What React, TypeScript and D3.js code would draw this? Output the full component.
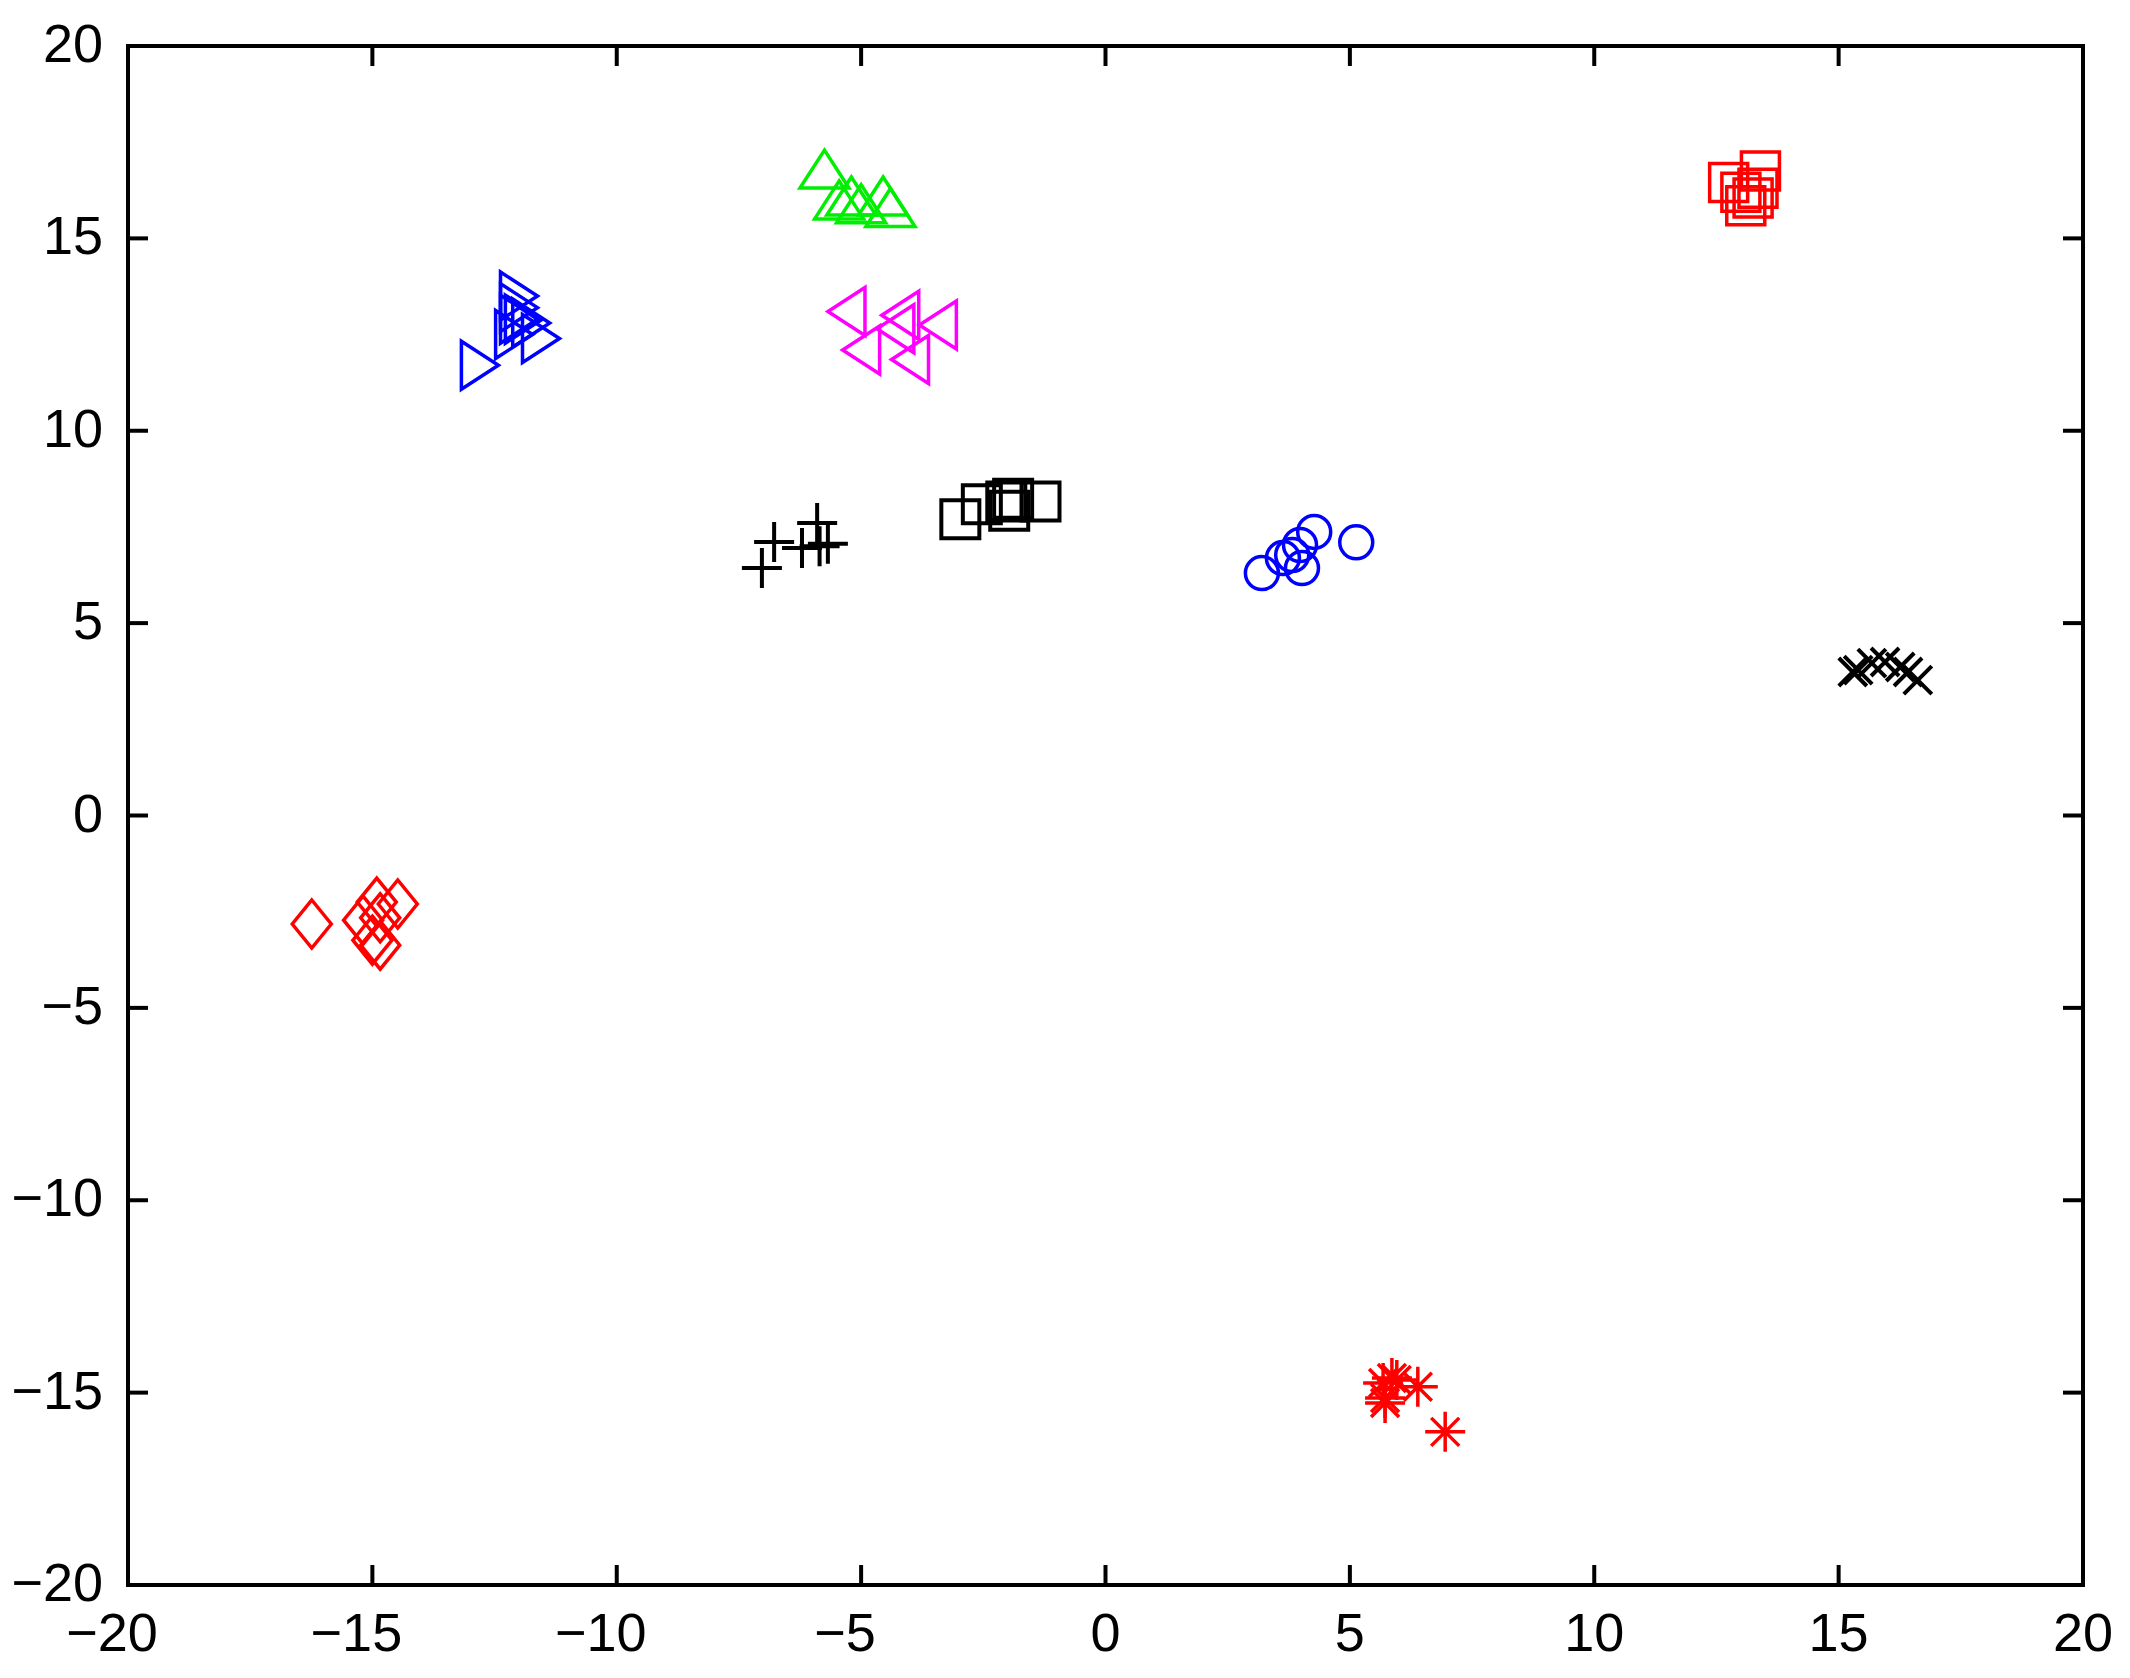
import React from "react";
import * as d3 from "d3";

const W = 2130;
const H = 1678;
const M = { left: 128, right: 2083, top: 46, bottom: 1585 };

const xTicks = [-20, -15, -10, -5, 0, 5, 10, 15, 20];
const yTicks = [-20, -15, -10, -5, 0, 5, 10, 15, 20];

// green up-triangles
const greenTriX = [-5.75, -5.45, -5.2, -4.55, -4.4, -5.0];
const greenTriY = [16.8, 16.0, 16.1, 16.1, 15.8, 15.9];
// blue right-triangles
const blueTriX = [-12.8, -12.0, -12.0, -11.9, -12.1, -11.75, -11.55, -12.0];
const blueTriY = [11.7, 13.5, 13.2, 12.9, 12.5, 12.8, 12.4, 12.9];
// magenta left-triangles
const magTriX = [-5.3, -5.0, -4.2, -3.43, -4.0, -4.3];
const magTriY = [13.1, 12.1, 13.0, 12.75, 11.85, 12.65];
// red squares
const redSqX = [12.75, 13.4, 13.35, 13.1, 13.25, 13.0];
const redSqY = [16.45, 16.75, 16.3, 15.85, 16.05, 16.2];
// black plus
const blackPlusX = [-7.03, -6.78, -6.21, -5.9, -5.68, -5.85];
const blackPlusY = [6.43, 7.11, 6.95, 7.6, 7.06, 7.0];
// black squares
const blackSqX = [-2.97, -2.53, -2.03, -1.89, -1.97, -1.33];
const blackSqY = [7.7, 8.09, 8.16, 8.23, 7.92, 8.16];
// blue circles
const blueCircX = [3.2, 5.13, 4.27, 3.63, 4.02, 3.82, 3.98];
const blueCircY = [6.3, 7.1, 7.37, 6.69, 6.43, 6.77, 7.03];
// black x-marks
const blackXX = [15.29, 15.4, 15.68, 15.95, 16.26, 16.42, 16.62];
const blackXY = [3.73, 3.78, 3.96, 3.99, 3.86, 3.73, 3.52];
// red diamonds
const redDiaX = [-16.24, -15.19, -14.91, -14.48, -15.0, -14.84, -14.84];
const redDiaY = [-2.82, -2.72, -2.25, -2.3, -3.24, -3.37, -2.66];
// red asterisks
const redAstX = [6.95, 6.39, 5.86, 5.72, 5.72, 5.96, 5.68];
const redAstY = [-16.02, -14.85, -14.62, -15.14, -15.27, -14.67, -14.75];

type Shape = "triUp" | "triRight" | "triLeft" | "square" | "circle" | "plus" | "x" | "diamond" | "asterisk";

const series: { xs: number[]; ys: number[]; shape: Shape; color: string }[] = [
  { xs: greenTriX, ys: greenTriY, shape: "triUp", color: "#00ee00" },
  { xs: blueTriX, ys: blueTriY, shape: "triRight", color: "#0000ff" },
  { xs: magTriX, ys: magTriY, shape: "triLeft", color: "#ff00ff" },
  { xs: redSqX, ys: redSqY, shape: "square", color: "#ff0000" },
  { xs: blackPlusX, ys: blackPlusY, shape: "plus", color: "#000000" },
  { xs: blackSqX, ys: blackSqY, shape: "square", color: "#000000" },
  { xs: blueCircX, ys: blueCircY, shape: "circle", color: "#0000ff" },
  { xs: blackXX, ys: blackXY, shape: "x", color: "#000000" },
  { xs: redDiaX, ys: redDiaY, shape: "diamond", color: "#ff0000" },
  { xs: redAstX, ys: redAstY, shape: "asterisk", color: "#ff0000" },
];

function markerPath(shape: Shape): string {
  switch (shape) {
    case "triUp":
      return "M0,-19L24.5,19L-24.5,19Z";
    case "triRight":
      return "M-18.5,-24L18.5,0L-18.5,24Z";
    case "triLeft":
      return "M18.5,-24L-18.5,0L18.5,24Z";
    case "square":
      return "M-19,-19L19,-19L19,19L-19,19Z";
    case "diamond":
      return "M0,-24L19.5,0L0,24L-19.5,0Z";
    case "circle":
      return "M16.5,0A16.5,16.5 0 1,1 -16.5,0A16.5,16.5 0 1,1 16.5,0Z";
    case "plus":
      return "M-20,0L20,0M0,-20L0,20";
    case "x":
      return "M-14,-14L14,14M-14,14L14,-14";
    case "asterisk":
      return "M-20,0L20,0M0,-20L0,20M-14,-14L14,14M-14,14L14,-14";
  }
}

const fmt = (v: number) => (v < 0 ? "\u2212" + Math.abs(v) : String(v));

export default function App() {
  const x = d3.scaleLinear().domain([-20, 20]).range([M.left, M.right]);
  const y = d3.scaleLinear().domain([-20, 20]).range([M.bottom, M.top]);
  const tickLen = 20;
  const font = "'Liberation Sans', Arial, Helvetica, sans-serif";

  return (
    <svg
      width={W}
      height={H}
      style={{ position: "absolute", left: 0, top: 0, background: "#fff" }}
    >
      <rect x={0} y={0} width={W} height={H} fill="#fff" />
      {series.map((s, si) =>
        s.xs.map((xv, i) => (
          <path
            key={`${si}-${i}`}
            d={markerPath(s.shape)}
            transform={`translate(${x(xv)},${y(s.ys[i])})`}
            fill="none"
            stroke={s.color}
            strokeWidth={s.color === "#000000" ? 4 : 3.5}
          />
        ))
      )}
      {xTicks.map((t) => (
        <g key={`xt${t}`}>
          <line x1={x(t)} x2={x(t)} y1={M.bottom} y2={M.bottom - tickLen} stroke="#000" strokeWidth={4} />
          <line x1={x(t)} x2={x(t)} y1={M.top} y2={M.top + tickLen} stroke="#000" strokeWidth={4} />
          <text
            x={x(t) - (t < 0 ? 16 : 0)}
            y={1651}
            textAnchor="middle"
            fontFamily={font}
            fontSize={54}
            fill="#000"
          >
            {fmt(t)}
          </text>
        </g>
      ))}
      {yTicks.map((t) => (
        <g key={`yt${t}`}>
          <line x1={M.left} x2={M.left + tickLen} y1={y(t)} y2={y(t)} stroke="#000" strokeWidth={4} />
          <line x1={M.right} x2={M.right - tickLen} y1={y(t)} y2={y(t)} stroke="#000" strokeWidth={4} />
          <text
            x={103}
            y={y(t) + 16}
            textAnchor="end"
            fontFamily={font}
            fontSize={54}
            fill="#000"
          >
            {fmt(t)}
          </text>
        </g>
      ))}
      <rect
        x={M.left}
        y={M.top}
        width={M.right - M.left}
        height={M.bottom - M.top}
        fill="none"
        stroke="#000"
        strokeWidth={4}
      />
    </svg>
  );
}
